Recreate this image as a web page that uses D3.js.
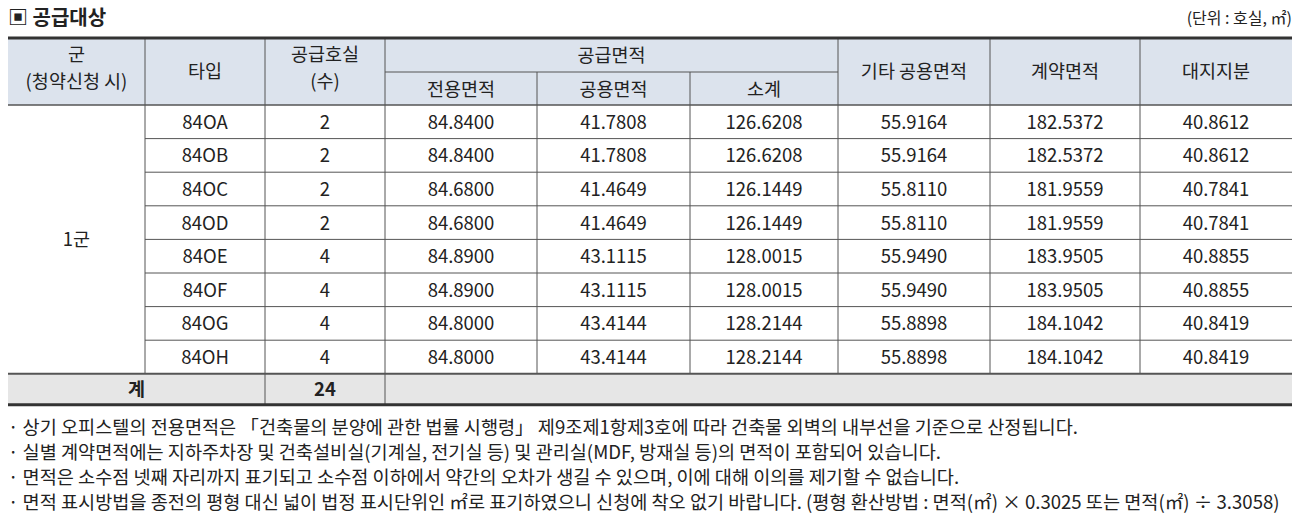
<!DOCTYPE html>
<html><head><meta charset="utf-8">
<script src="https://cdn.jsdelivr.net/npm/d3@7"></script>
<style>body{margin:0;background:#fff}text{font-family:"Noto Sans CJK KR","Noto Sans",sans-serif;fill:#222}</style>
</head><body><svg width="1300" height="523"></svg>
<script>
var types=["84OA","84OB","84OC","84OD","84OE","84OF","84OG","84OH"];
var units=[2,2,2,2,4,4,4,4];
var exclusive=["84.8400","84.8400","84.6800","84.6800","84.8900","84.8900","84.8000","84.8000"];
var common=["41.7808","41.7808","41.4649","41.4649","43.1115","43.1115","43.4144","43.4144"];
var subtotal=["126.6208","126.6208","126.1449","126.1449","128.0015","128.0015","128.2144","128.2144"];
var otherCommon=["55.9164","55.9164","55.8110","55.8110","55.9490","55.9490","55.8898","55.8898"];
var contract=["182.5372","182.5372","181.9559","181.9559","183.9505","183.9505","184.1042","184.1042"];
var land=["40.8612","40.8612","40.7841","40.7841","40.8855","40.8855","40.8419","40.8419"];
var notes=[
"· 상기 오피스텔의 전용면적은 「건축물의 분양에 관한 법률 시행령」 제9조제1항제3호에 따라 건축물 외벽의 내부선을 기준으로 산정됩니다.",
"· 실별 계약면적에는 지하주차장 및 건축설비실(기계실, 전기실 등) 및 관리실(MDF, 방재실 등)의 면적이 포함되어 있습니다.",
"· 면적은 소수점 넷째 자리까지 표기되고 소수점 이하에서 약간의 오차가 생길 수 있으며, 이에 대해 이의를 제기할 수 없습니다.",
"· 면적 표시방법을 종전의 평형 대신 넓이 법정 표시단위인 ㎡로 표기하였으니 신청에 착오 없기 바랍니다. (평형 환산방법 : 면적(㎡) × 0.3025 또는 면적(㎡) ÷ 3.3058)"];

var svg=d3.select("svg");
var colX=[8,145,265,385,537,690,838,990,1140,1292];
var tblTop=38, h1=72, h2=105, rowH=33.6;
var y=d3.scaleLinear().domain([0,8]).range([h2,h2+8*rowH]);
var totBot=y(8)+31;
var cx=function(a,b){return (colX[a]+colX[b])/2;};

svg.append("text").attr("x",8).attr("y",25).attr("font-size",20).attr("font-weight","bold").text("▣ 공급대상");
svg.append("text").attr("x",1292).attr("y",24).attr("font-size",16).attr("text-anchor","end").text("(단위 : 호실, ㎡)");

svg.append("rect").attr("x",8).attr("y",tblTop).attr("width",1284).attr("height",h2-tblTop).attr("fill","#dce3ed");
svg.append("rect").attr("x",8).attr("y",y(8)).attr("width",1284).attr("height",totBot-y(8)).attr("fill","#e6e6e6");

function line(x1,y1,x2,y2,w,c){svg.append("line").attr("x1",x1).attr("y1",y1).attr("x2",x2).attr("y2",y2).attr("stroke",c||"#555").attr("stroke-width",w||1);}
colX.slice(1,-1).forEach(function(x,i){
  var idx=i+1;
  if(idx==4||idx==5) line(x,h1,x,y(8));
  else if(idx==2||idx==3) line(x,tblTop,x,totBot);
  else line(x,tblTop,x,y(8));
});
line(colX[3],h1,colX[6],h1);
line(8,h2,1292,h2,1.5);
d3.range(1,8).forEach(function(i){line(colX[1],y(i),1292,y(i));});
line(8,y(8),1292,y(8),2);
line(8,tblTop,1292,tblTop,3,"#333");
line(8,totBot,1292,totBot,3,"#333");

function t(x,yy,s,size,bold){svg.append("text").attr("x",x).attr("y",yy).attr("font-size",size||18.5).attr("text-anchor","middle").attr("font-weight",bold?"bold":"normal").text(s);}
t(cx(0,1),61,"군");t(cx(0,1),88,"(청약신청 시)");
t(cx(1,2),78,"타입");
t(cx(2,3),61,"공급호실");t(cx(2,3),88,"(수)");
t(cx(3,6),62,"공급면적");
t(cx(3,4),96,"전용면적");t(cx(4,5),96,"공용면적");t(cx(5,6),96,"소계");
t(cx(6,7),78,"기타 공용면적");t(cx(7,8),78,"계약면적");t(cx(8,9),78,"대지지분");

var cols=[types,units,exclusive,common,subtotal,otherCommon,contract,land];
types.forEach(function(d,i){
  cols.forEach(function(arr,j){t(cx(j+1,j+2),y(i)+rowH/2+7,arr[i]);});
});
t(cx(0,1),y(4)+7,"1군");
t(cx(0,2),y(8)+22,"계",18.5,true);
t(cx(2,3),y(8)+22,d3.sum(units),18.5,true);

notes.forEach(function(n,i){svg.append("text").attr("x",8).attr("y",434+i*25).attr("font-size",18.6).text(n);});
</script></body></html>
